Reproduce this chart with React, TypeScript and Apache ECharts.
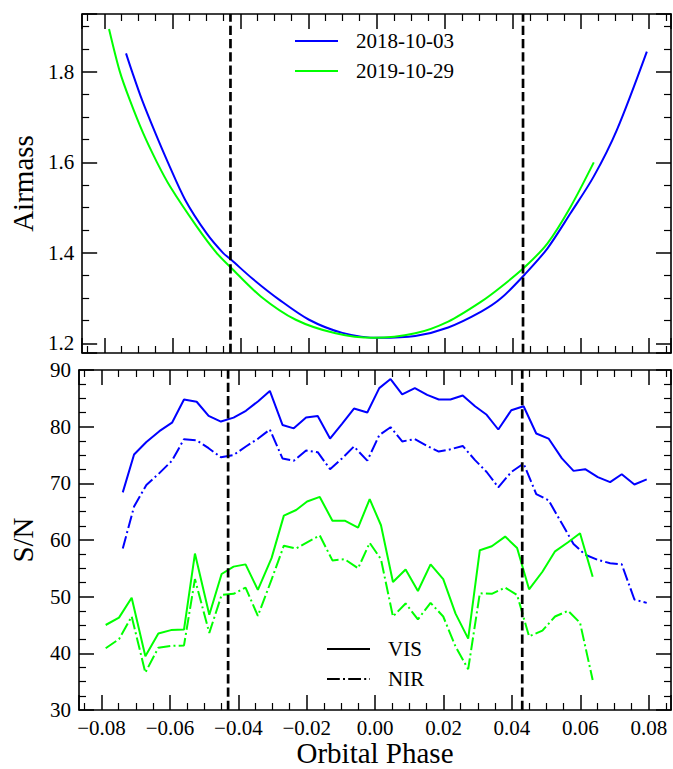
import React, { useEffect, useRef } from "react";
import * as echarts from "echarts";

// ---- Airmass (top panel) ----
const blueAirmassPhase = [-0.0737, -0.0719, -0.069, -0.0651, -0.0614, -0.0563, -0.05, -0.0452, -0.0427, -0.0364, -0.0286, -0.0199, -0.0101, 0.0006, 0.0113, 0.021, 0.0307, 0.0366, 0.0436, 0.0502, 0.057, 0.0638, 0.0706, 0.0794];
const blueAirmass = [1.841, 1.8, 1.738, 1.665, 1.6, 1.517, 1.443, 1.4, 1.384, 1.342, 1.296, 1.252, 1.223, 1.212, 1.216, 1.235, 1.27, 1.3, 1.353, 1.41, 1.488, 1.569, 1.672, 1.845];
const greenAirmassPhase = [-0.0787, -0.0755, -0.0726, -0.0687, -0.0646, -0.0607, -0.0529, -0.0471, -0.0427, -0.034, -0.0238, -0.0121, -0.001, 0.0113, 0.021, 0.0307, 0.0366, 0.0436, 0.0502, 0.057, 0.0638];
const greenAirmass = [1.895, 1.8, 1.738, 1.665, 1.6, 1.546, 1.458, 1.4, 1.366, 1.303, 1.252, 1.222, 1.212, 1.222, 1.248, 1.292, 1.325, 1.369, 1.421, 1.502, 1.6];

// ---- S/N (bottom panel) ----
const bluePhase = [-0.0738, -0.0705, -0.0669, -0.0631, -0.0594, -0.0559, -0.0522, -0.0487, -0.0451, -0.0414, -0.0378, -0.0342, -0.0308, -0.0271, -0.0238, -0.0202, -0.0168, -0.0132, -0.0097, -0.0062, -0.0023, 0.0012, 0.0045, 0.0079, 0.0116, 0.0152, 0.0186, 0.022, 0.0256, 0.0292, 0.0326, 0.036, 0.0398, 0.0434, 0.0471, 0.0507, 0.0546, 0.058, 0.0614, 0.0651, 0.0687, 0.0721, 0.0758, 0.0794];
const blueVis = [68.4, 75.1, 77.3, 79.2, 80.7, 84.8, 84.4, 81.9, 80.9, 81.6, 82.8, 84.5, 86.3, 80.3, 79.7, 81.6, 81.9, 77.9, 80.5, 83.2, 82.5, 86.8, 88.4, 85.7, 86.8, 85.6, 84.8, 84.8, 85.5, 83.6, 82.1, 79.5, 82.9, 83.6, 78.8, 77.9, 74.4, 72.2, 72.5, 71.1, 70.2, 71.6, 69.8, 70.7];
const blueNir = [58.5, 65.9, 69.7, 71.8, 74.0, 77.8, 77.6, 76.2, 74.6, 75.0, 76.5, 77.9, 79.5, 74.4, 74.0, 75.8, 75.5, 72.5, 74.4, 76.5, 74.0, 78.5, 79.9, 77.4, 77.8, 76.6, 75.6, 76.0, 76.6, 74.1, 72.0, 69.3, 72.0, 73.5, 68.1, 67.0, 62.9, 59.3, 57.4, 56.5, 55.9, 55.7, 49.5, 48.9];
const greenPhase = [-0.0788, -0.0749, -0.0712, -0.0672, -0.0634, -0.0597, -0.0559, -0.0527, -0.0485, -0.0449, -0.0414, -0.0379, -0.0343, -0.0303, -0.0267, -0.0231, -0.0199, -0.0162, -0.0125, -0.0089, -0.005, -0.0016, 0.0017, 0.0052, 0.0089, 0.0125, 0.0162, 0.0199, 0.0235, 0.0272, 0.0306, 0.0341, 0.038, 0.0415, 0.045, 0.0489, 0.0526, 0.0564, 0.0599, 0.0636];
const greenVis = [45.0, 46.3, 49.8, 39.5, 43.5, 44.1, 44.2, 57.6, 46.8, 54.0, 55.3, 55.7, 51.2, 56.8, 64.3, 65.3, 66.8, 67.6, 63.4, 63.4, 62.2, 67.2, 62.6, 52.6, 54.8, 51.0, 55.7, 53.1, 47.0, 42.6, 58.2, 58.9, 60.6, 58.6, 51.3, 54.4, 58.0, 59.6, 61.2, 53.5];
const greenNir = [40.9, 42.5, 46.5, 36.6, 41.0, 41.3, 41.4, 53.1, 43.6, 50.3, 50.5, 51.6, 46.6, 53.0, 59.0, 58.5, 59.6, 60.8, 56.4, 56.6, 55.0, 59.5, 56.6, 46.5, 48.8, 46.0, 48.9, 46.5, 41.2, 37.2, 50.6, 50.5, 51.6, 50.3, 43.0, 44.0, 46.5, 47.5, 45.4, 35.3];

const transitPhases = [-0.043, 0.043];
const nightLabels = ["2018-10-03", "2019-10-29"];
const armLabels = ["VIS", "NIR"];

const FONT = "Liberation Serif";
const BLUE = "#0000ff";
const GREEN = "#00ff00";
const DASHDOT = [12.8, 3.2, 2, 3.2];
const DASHED = [9.25, 4];

const zip = (xs: number[], ys: number[]) => xs.map((x, i) => [x, ys[i]]);
const fmtPhase = (v: number) => (Math.abs(v) < 1e-9 ? "0.00" : v.toFixed(2)).replace("-", "\u2212");

const X_MIN = -0.0866;
const X_MAX = 0.0865;
const AM_MIN = 1.1785;
const AM_MAX = 1.928;
const SN_MIN = 30;
const SN_MAX = 90;

function xAxis(gridIndex: number, position: string, labels: boolean, name?: string) {
  return {
    type: "value",
    gridIndex,
    position,
    min: X_MIN,
    max: X_MAX,
    splitNumber: 8,
    name: name || "",
    nameLocation: "middle",
    nameGap: 25,
    nameTextStyle: { fontFamily: FONT, fontSize: 29, color: "#000" },
    axisLine: { show: true, onZero: false, lineStyle: { color: "#000", width: 1.6 } },
    axisTick: { show: true, inside: true, length: 15, lineStyle: { color: "#000", width: 1.5 } },
    minorTick: { show: true, splitNumber: 4, length: 7, lineStyle: { color: "#000", width: 1.2 } },
    splitLine: { show: false },
    minorSplitLine: { show: false },
    axisLabel: {
      show: labels,
      showMinLabel: false,
      showMaxLabel: false,
      margin: 7,
      fontFamily: FONT,
      fontSize: 21,
      color: "#000",
      formatter: fmtPhase,
    },
  };
}

function yAxis(gridIndex: number, position: string, labels: boolean, cfg: any) {
  return {
    type: "value",
    gridIndex,
    position,
    nameLocation: "middle",
    nameGap: 42,
    nameRotate: 90,
    nameTextStyle: { fontFamily: FONT, fontSize: 29, color: "#000" },
    axisLine: { show: true, onZero: false, lineStyle: { color: "#000", width: 1.6 } },
    axisTick: { show: true, inside: true, length: 15, lineStyle: { color: "#000", width: 1.5 } },
    minorTick: { show: true, splitNumber: 4, length: 7, lineStyle: { color: "#000", width: 1.2 } },
    splitLine: { show: false },
    minorSplitLine: { show: false },
    ...cfg,
    axisLabel: {
      show: labels,
      margin: 8,
      fontFamily: FONT,
      fontSize: 21,
      color: "#000",
      ...(cfg.axisLabel || {}),
    },
  };
}

function transitSeries(axisIndex: number, lo: number, hi: number) {
  return transitPhases.map((p) => ({
    type: "line",
    xAxisIndex: axisIndex,
    yAxisIndex: axisIndex,
    data: [
      [p, lo],
      [p, hi],
    ],
    showSymbol: false,
    silent: true,
    z: 5,
    lineStyle: { color: "#000", width: 2.7, type: DASHED },
    itemStyle: { color: "#000" },
  }));
}

export default function App() {
  const ref = useRef<HTMLDivElement>(null);
  useEffect(() => {
    if (!ref.current) return;
    const chart = echarts.init(ref.current, undefined, { renderer: "svg" });
    const topY = {
      min: AM_MIN,
      max: AM_MAX,
      splitNumber: 4,
      axisLabel: { showMinLabel: false, showMaxLabel: false, formatter: (v: number) => v.toFixed(1) },
    };
    const botY = { min: SN_MIN, max: SN_MAX, interval: 10 };
    const legendGraphics: any[] = [];
    [BLUE, GREEN].forEach((c, i) => {
      const y = 41 + i * 30;
      legendGraphics.push({ type: "line", shape: { x1: 295, y1: y, x2: 338, y2: y }, style: { stroke: c, lineWidth: 2 } });
      legendGraphics.push({
        type: "text",
        x: 356,
        y,
        style: { text: nightLabels[i], fontFamily: FONT, fontSize: 21, fill: "#000", verticalAlign: "middle", align: "left" },
      });
    });
    [null, DASHDOT].forEach((d, i) => {
      const y = 649 + i * 30;
      legendGraphics.push({
        type: "line",
        shape: { x1: 327, y1: y, x2: 370, y2: y },
        style: { stroke: "#000", lineWidth: 2, lineDash: d || undefined },
      });
      legendGraphics.push({
        type: "text",
        x: 388,
        y,
        style: { text: armLabels[i], fontFamily: FONT, fontSize: 21, fill: "#000", verticalAlign: "middle", align: "left" },
      });
    });

    const amLine = (name: string, xs: number[], ys: number[], color: string) => ({
      type: "line",
      name,
      xAxisIndex: 0,
      yAxisIndex: 0,
      data: zip(xs, ys),
      smooth: 0.3,
      showSymbol: false,
      lineStyle: { color, width: 2 },
      itemStyle: { color },
    });
    const snLine = (name: string, xs: number[], ys: number[], color: string, dash: any) => ({
      type: "line",
      name,
      xAxisIndex: 2,
      yAxisIndex: 2,
      data: zip(xs, ys),
      showSymbol: false,
      lineStyle: { color, width: 2, type: dash },
      itemStyle: { color },
    });

    chart.setOption({
      animation: false,
      backgroundColor: "#fff",
      textStyle: { fontFamily: FONT },
      grid: [
        { left: 78, top: 14, width: 593, height: 339 },
        { left: 78, top: 370, width: 593, height: 340 },
      ],
      xAxis: [
        xAxis(0, "bottom", false),
        xAxis(0, "top", false),
        xAxis(1, "bottom", true, "Orbital Phase"),
        xAxis(1, "top", false),
      ],
      yAxis: [
        yAxis(0, "left", true, { ...topY, name: "Airmass" }),
        yAxis(0, "right", false, topY),
        yAxis(1, "left", true, { ...botY, name: "S/N" }),
        yAxis(1, "right", false, botY),
      ],
      series: [
        amLine(nightLabels[0], blueAirmassPhase, blueAirmass, BLUE),
        amLine(nightLabels[1], greenAirmassPhase, greenAirmass, GREEN),
        snLine(nightLabels[0] + " " + armLabels[0], bluePhase, blueVis, BLUE, "solid"),
        snLine(nightLabels[0] + " " + armLabels[1], bluePhase, blueNir, BLUE, DASHDOT),
        snLine(nightLabels[1] + " " + armLabels[0], greenPhase, greenVis, GREEN, "solid"),
        snLine(nightLabels[1] + " " + armLabels[1], greenPhase, greenNir, GREEN, DASHDOT),
        ...transitSeries(0, AM_MIN, AM_MAX),
        ...transitSeries(2, SN_MIN, SN_MAX),
      ],
      graphic: legendGraphics,
    });
    return () => chart.dispose();
  }, []);
  return (
    <div
      ref={ref}
      style={{ position: "fixed", left: 0, top: 0, width: 673, height: 769, background: "#fff" }}
    />
  );
}
